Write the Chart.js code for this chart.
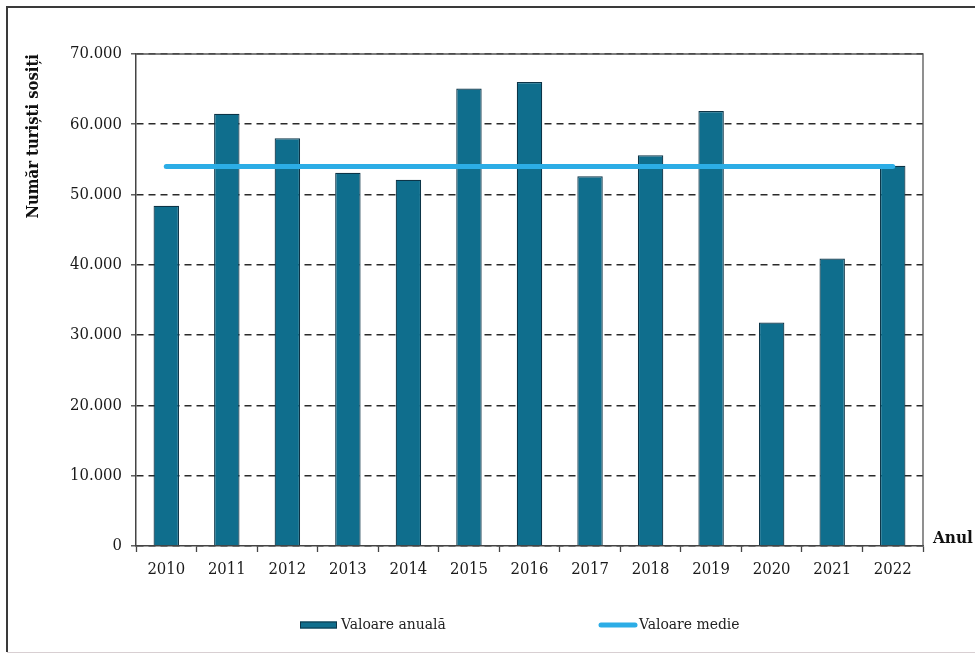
<!DOCTYPE html>
<html>
<head>
<meta charset="utf-8">
<title>Număr turiști sosiți 2010–2022</title>
<script src="https://cdn.jsdelivr.net/npm/chart.js@4/dist/chart.umd.min.js"></script>
<style>
  html, body { margin: 0; padding: 0; background: #fff; }
  #wrap { width: 975px; height: 657px; position: relative; overflow: hidden; }
</style>
</head>
<body>
<div id="wrap"><canvas id="chart" width="975" height="657"></canvas></div>
<script>
// Years on the category axis
const years = ['2010', '2011', '2012', '2013', '2014', '2015', '2016',
               '2017', '2018', '2019', '2020', '2021', '2022'];

// Tourists arrived each year
const annualValues = [48400, 61500, 58000, 53100, 52100, 65100, 66000,
                      52600, 55600, 61900, 31800, 40900, 54100];

// Average over the period, drawn as a flat line
const averageValues = [54000, 54000, 54000, 54000, 54000, 54000, 54000,
                       54000, 54000, 54000, 54000, 54000, 54000];

// Value axis ticks
const yTicks = [0, 10000, 20000, 30000, 40000, 50000, 60000, 70000];

const seriesNames = ['Valoare anuală', 'Valoare medie'];
const yAxisTitle = 'Număr turiști sosiți';
const xAxisTitle = 'Anul';

const SERIF = '"DejaVu Serif Condensed", "Liberation Serif", serif';

function formatThousands(v) {
  return String(v).replace(/\B(?=(\d{3})+(?!\d))/g, '.');
}

// Outer frame, plot border, "Anul" caption and the legend
const decorations = {
  id: 'decorations',
  beforeDraw(chart) {
    const ctx = chart.ctx;
    ctx.save();
    ctx.fillStyle = '#fff';
    ctx.fillRect(0, 0, chart.width, chart.height);
    ctx.strokeStyle = '#3a3a3a';
    ctx.lineWidth = 2;
    ctx.beginPath();
    ctx.moveTo(chart.width + 5, 7);
    ctx.lineTo(7, 7);
    ctx.lineTo(7, 652);
    ctx.stroke();
    ctx.strokeStyle = '#d8cfd2';
    ctx.lineWidth = 1;
    ctx.beginPath();
    ctx.moveTo(7, 652.5);
    ctx.lineTo(chart.width, 652.5);
    ctx.stroke();
    ctx.restore();
  },
  beforeDatasetsDraw(chart) {
    const {ctx, chartArea: a} = chart;
    ctx.save();
    ctx.strokeStyle = '#555';
    ctx.lineWidth = 1.3;
    ctx.beginPath();
    ctx.moveTo(a.left, a.top);
    ctx.lineTo(a.right, a.top);
    ctx.lineTo(a.right, a.bottom);
    ctx.stroke();
    ctx.restore();
  },
  afterDraw(chart) {
    const {ctx, chartArea: a} = chart;
    ctx.save();
    ctx.fillStyle = '#111';
    ctx.font = 'bold 17px ' + SERIF;
    ctx.textBaseline = 'middle';
    ctx.textAlign = 'left';
    ctx.fillText(xAxisTitle, a.right + 10, a.bottom - 7);

    const legendY = 625;
    const legendX = [300, 598];
    chart.data.datasets.forEach((ds, i) => {
      const x = legendX[i];
      if (ds.type === 'line') {
        ctx.strokeStyle = ds.borderColor;
        ctx.lineWidth = 5;
        ctx.lineCap = 'round';
        ctx.beginPath();
        ctx.moveTo(x + 3, legendY);
        ctx.lineTo(x + 37, legendY);
        ctx.stroke();
      } else {
        ctx.fillStyle = ds.backgroundColor;
        ctx.fillRect(x, legendY - 3.5, 37, 7);
        ctx.strokeStyle = ds.borderColor;
        ctx.lineWidth = 1;
        ctx.strokeRect(x + 0.5, legendY - 3, 36, 6);
      }
      ctx.fillStyle = '#222';
      ctx.font = '15.5px ' + SERIF;
      ctx.textBaseline = 'middle';
      ctx.fillText(ds.label, x + 41, legendY);
    });
    ctx.restore();
  }
};

new Chart(document.getElementById('chart'), {
  data: {
    labels: years,
    datasets: [
      {
        type: 'bar',
        label: seriesNames[0],
        data: annualValues,
        backgroundColor: '#0f6e8d',
        borderColor: '#0c3447',
        borderWidth: 1.2,
        barPercentage: 0.42,
        categoryPercentage: 1,
        order: 2
      },
      {
        type: 'line',
        label: seriesNames[1],
        data: averageValues,
        borderColor: '#2cade6',
        borderWidth: 5,
        borderCapStyle: 'round',
        pointRadius: 0,
        fill: false,
        order: 1
      }
    ]
  },
  options: {
    responsive: false,
    animation: false,
    devicePixelRatio: 1,
    layout: { padding: { left: 20, right: 52, top: 54, bottom: 70 } },
    plugins: {
      legend: { display: false },
      tooltip: { enabled: false }
    },
    scales: {
      x: {
        afterFit(scale) { scale.height = 41; },
        grid: {
          display: true,
          offset: true,
          drawOnChartArea: false,
          drawTicks: true,
          tickLength: 6,
          tickColor: '#444',
          tickWidth: 1.3
        },
        border: { display: true, color: '#444', width: 1.5 },
        ticks: {
          color: '#1a1a1a',
          font: { family: SERIF, size: 16.5 },
          padding: 8,
          maxRotation: 0
        }
      },
      y: {
        min: 0,
        max: 70000,
        afterFit(scale) { scale.width = 116; },
        afterBuildTicks(scale) { scale.ticks = yTicks.map(v => ({ value: v })); },
        grid: {
          color: '#2a2a2a',
          lineWidth: 1.6,
          drawTicks: true,
          tickLength: 5,
          tickColor: '#444',
          tickWidth: 1.3
        },
        border: { display: true, color: '#444', width: 1.5, dash: [7, 5] },
        ticks: {
          color: '#1a1a1a',
          font: { family: SERIF, size: 16.5 },
          padding: 9,
          callback: v => formatThousands(v)
        },
        title: {
          display: true,
          text: yAxisTitle,
          align: 'end',
          color: '#111',
          font: { family: SERIF, size: 16.5, weight: 'bold' },
          padding: { top: 4, bottom: 4 }
        }
      }
    }
  },
  plugins: [decorations]
});
</script>
</body>
</html>
